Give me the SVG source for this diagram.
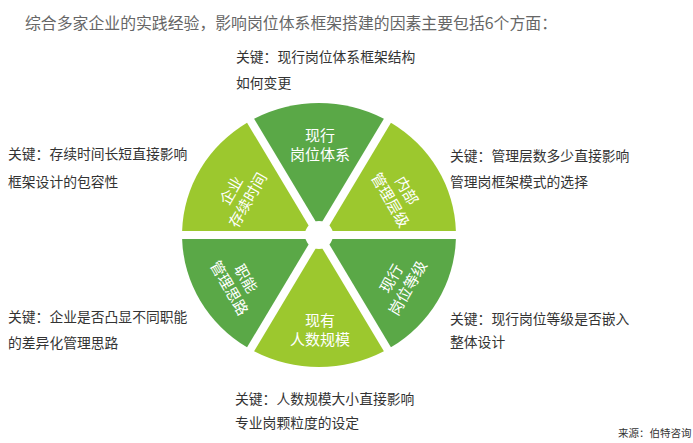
<svg xmlns="http://www.w3.org/2000/svg" width="693" height="443" viewBox="0 0 693 443">
<style>
.dk{fill:#5aa847}
.lt{fill:#9cc82e}
.in{font-family:"Noto Sans CJK SC","Noto Sans",sans-serif;font-size:15px;fill:#ffffff;text-anchor:middle}
.lb{font-family:"Noto Sans CJK SC","Noto Sans",sans-serif;font-size:13.8px;fill:#333333}
.tt{font-family:"Noto Sans CJK SC","Noto Sans",sans-serif;font-size:15.8px;fill:#666666}
.src{font-family:"Noto Sans CJK SC","Noto Sans",sans-serif;font-size:10.5px;fill:#333333}
</style>
<rect width="693" height="443" fill="#ffffff"/>
<text class="tt" x="25" y="29" textLength="532" lengthAdjust="spacingAndGlyphs">综合多家企业的实践经验，影响岗位体系框架搭建的因素主要包括6个方面：</text>

<g transform="translate(319,235) scale(1.022,0.985)">
<path id="s-top" class="dk" d="M0,-8 L-63.5,-118 A134,134 0 0 1 63.5,-118 Z"/>
<path id="s-ur" class="lt" d="M6.93,-4 L70.4,-114 A134,134 0 0 1 133.94,-4 Z"/>
<path id="s-lr" class="dk" d="M6.93,4 L133.94,4 A134,134 0 0 1 70.4,114 Z"/>
<path id="s-bot" class="lt" d="M0,8 L63.5,118 A134,134 0 0 1 -63.5,118 Z"/>
<path id="s-ll" class="dk" d="M-6.93,4 L-70.4,114 A134,134 0 0 1 -133.94,4 Z"/>
<path id="s-ul" class="lt" d="M-6.93,-4 L-133.94,-4 A134,134 0 0 1 -70.4,-114 Z"/>
</g>
<circle cx="319" cy="235" r="14" fill="#ffffff"/>

<g id="node-top">
<text class="in" x="320" y="141">现行</text>
<text class="in" x="320" y="160">岗位体系</text>
<text class="lb" x="236" y="62">关键：现行岗位体系框架结构</text>
<text class="lb" x="236" y="88">如何变更</text>
</g>
<g id="node-ur">
<g transform="translate(399,195) rotate(60)">
<text class="in" x="0" y="-3.5">内部</text>
<text class="in" x="0" y="15.5">管理层级</text>
</g>
<text class="lb" x="450" y="161">关键：管理层数多少直接影响</text>
<text class="lb" x="450" y="187">管理岗框架模式的选择</text>
</g>
<g id="node-lr">
<g transform="translate(399,283) rotate(-60)">
<text class="in" x="0" y="-3.5">现行</text>
<text class="in" x="0" y="15.5">岗位等级</text>
</g>
<text class="lb" x="450" y="324">关键：现行岗位等级是否嵌入</text>
<text class="lb" x="450" y="347">整体设计</text>
</g>
<g id="node-bot">
<text class="in" x="320" y="326">现有</text>
<text class="in" x="320" y="345">人数规模</text>
<text class="lb" x="235" y="404">关键：人数规模大小直接影响</text>
<text class="lb" x="235" y="428">专业岗颗粒度的设定</text>
</g>
<g id="node-ll">
<g transform="translate(238,283) rotate(60)">
<text class="in" x="0" y="-3.5">职能</text>
<text class="in" x="0" y="15.5">管理思路</text>
</g>
<text class="lb" x="8" y="322">关键：企业是否凸显不同职能</text>
<text class="lb" x="8" y="348">的差异化管理思路</text>
</g>
<g id="node-ul">
<g transform="translate(239,195) rotate(-60)">
<text class="in" x="0" y="-3.5">企业</text>
<text class="in" x="0" y="15.5">存续时间</text>
</g>
<text class="lb" x="8" y="159">关键：存续时间长短直接影响</text>
<text class="lb" x="8" y="187">框架设计的包容性</text>
</g>
<g id="connectors"></g>
<text class="src" x="618" y="437">来源：伯特咨询</text>
</svg>
